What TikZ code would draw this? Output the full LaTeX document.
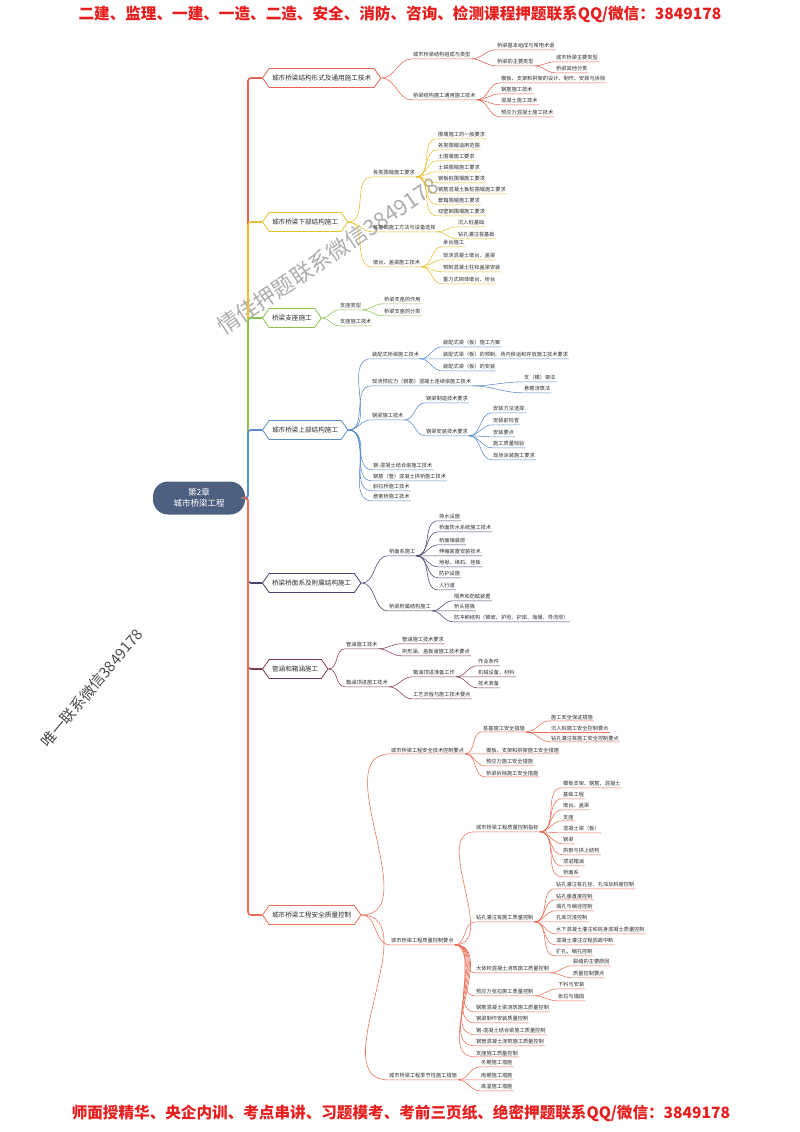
\documentclass[tikz,border=0pt]{standalone}
\usepackage{fontspec}
\setmainfont{Noto Sans CJK SC}
\usetikzlibrary{shapes.symbols}
\definecolor{cA}{RGB}{226,98,84}
\definecolor{cB}{RGB}{232,190,50}
\definecolor{cC}{RGB}{140,193,82}
\definecolor{cD}{RGB}{90,140,200}
\definecolor{cE}{RGB}{75,65,110}
\definecolor{cF}{RGB}{130,60,80}
\definecolor{cG}{RGB}{232,110,85}
\definecolor{rootc}{RGB}{78,96,130}
\definecolor{txt}{RGB}{45,45,45}
\definecolor{hdr}{RGB}{230,30,30}
\newcommand\mylf[4]{\node[leaf] (#1) at (#2,#3) {#4};}
\newcommand\mylk[3]{\draw[lnk=#1] (#2.south east) to[out=0,in=180] (#3.south west) -- (#3.south east);}
\newcommand\myhk[3]{\draw[lnk=#1] (#2.east) to[out=0,in=180] (#3.south west) -- (#3.south east);}
\begin{document}
\begin{tikzpicture}[x=1pt,y=-1pt,
  leaf/.style={font=\fontsize{5.2}{6}\selectfont, text=txt, inner xsep=1pt, inner ysep=1.2pt, anchor=west},
  hex/.style={shape=signal, signal to=east and west, signal pointer angle=110, draw=#1, line width=0.8pt, fill=white, font=\fontsize{6.6}{8}\selectfont, text=txt, inner xsep=3pt, inner ysep=0pt, minimum height=19pt, anchor=west},
  lnk/.style={draw=#1, line width=0.55pt},
  trunk/.style={draw=#1, line width=1.6pt, rounded corners=3pt}]
\fill[white] (0,0) rectangle (800,1132);
\useasboundingbox (0,0) rectangle (800,1132);

% header / footer
\node[font=\fontsize{15.6}{18}\selectfont\bfseries, text=hdr] (hd) at (400,14) {二建、监理、一建、一造、二造、安全、消防、咨询、检测课程押题联系QQ/微信：3849178};
\node[font=\fontsize{15.6}{18}\selectfont\bfseries, text=hdr] (ft) at (401,1113) {师面授精华、央企内训、考点串讲、习题模考、考前三页纸、绝密押题联系QQ/微信：3849178};

% watermarks
\node[font=\fontsize{22}{24}\selectfont, text=black!32, rotate=34] (wm1) at (328,256) {情佳押题联系微信3849178};
\node[font=\fontsize{15}{17}\selectfont, text=black!70, rotate=50] (wm2) at (92,688) {唯一联系微信3849178};

% root
\node[fill=rootc, rounded corners=15pt, minimum width=92pt, minimum height=33pt, text=white, align=center, font=\fontsize{8.5}{11}\selectfont] (root) at (199,498) {第2章\\城市桥梁工程};

% main branches
\node[hex=cA] (b1) at (262,78) {城市桥梁结构形式及通用施工技术};
\node[hex=cB] (b2) at (262,222) {城市桥梁下部结构施工};
\node[hex=cC] (b3) at (262,318) {桥梁支座施工};
\node[hex=cD] (b4) at (262,430) {城市桥梁上部结构施工};
\node[hex=cE] (b5) at (262,583) {桥梁桥面系及附属结构施工};
\node[hex=cF] (b6) at (262,669) {管涵和箱涵施工};
\node[hex=cG] (b7) at (262,915) {城市桥梁工程安全质量控制};

\draw[trunk=cA] (root.east) -- (248,498) -- (248,78) -- (b1.west);
\draw[trunk=cB] (root.east) -- (248,498) -- (248,222) -- (b2.west);
\draw[trunk=cC] (root.east) -- (248,498) -- (248,318) -- (b3.west);
\draw[trunk=cD] (root.east) -- (248,498) -- (248,430) -- (b4.west);
\draw[trunk=cE] (root.east) -- (248,498) -- (248,583) -- (b5.west);
\draw[trunk=cF] (root.east) -- (248,498) -- (248,669) -- (b6.west);
\draw[trunk=cG] (root.east) -- (248,498) -- (248,915) -- (b7.west);

% ---------- branch 1
\mylf{b1a}{412}{55}{城市桥梁结构组成与类型}
\mylf{b1a1}{496}{46}{桥梁基本组成与常用术语}
\mylf{b1a2}{496}{62}{桥梁的主要类型}
\mylf{b1a2a}{555}{58}{城市桥梁主要类型}
\mylf{b1a2b}{555}{69}{桥梁其他分类}
\mylf{b1b}{412}{96}{桥梁结构施工通用施工技术}
\mylf{b1b1}{500}{79}{模板、支架和拱架的设计、制作、安装与拆除}
\mylf{b1b2}{500}{90}{钢筋施工技术}
\mylf{b1b3}{500}{101}{混凝土施工技术}
\mylf{b1b4}{500}{113}{预应力混凝土施工技术}
\myhk{cA}{b1}{b1a}\myhk{cA}{b1}{b1b}
\mylk{cA}{b1a}{b1a1}\mylk{cA}{b1a}{b1a2}
\mylk{cA}{b1a2}{b1a2a}\mylk{cA}{b1a2}{b1a2b}
\mylk{cA}{b1b}{b1b1}\mylk{cA}{b1b}{b1b2}\mylk{cA}{b1b}{b1b3}\mylk{cA}{b1b}{b1b4}

% ---------- branch 2
\mylf{b2a}{372}{173}{各类围堰施工要求}
\mylf{b2a1}{437}{135}{围堰施工的一般要求}
\mylf{b2a2}{437}{146}{各类围堰适用范围}
\mylf{b2a3}{437}{157}{土围堰施工要求}
\mylf{b2a4}{437}{168}{土袋围堰施工要求}
\mylf{b2a5}{437}{179}{钢板桩围堰施工要求}
\mylf{b2a6}{437}{190}{钢筋混凝土板桩围堰施工要求}
\mylf{b2a7}{437}{201}{套箱围堰施工要求}
\mylf{b2a8}{437}{212}{双壁钢围堰施工要求}
\mylf{b2b}{372}{228}{桩基础施工方法与设备选择}
\mylf{b2b1}{457}{223}{沉入桩基础}
\mylf{b2b2}{457}{235}{钻孔灌注桩基础}
\mylf{b2c}{372}{263}{墩台、盖梁施工技术}
\mylf{b2c1}{442}{243}{承台施工}
\mylf{b2c2}{442}{256}{现浇混凝土墩台、盖梁}
\mylf{b2c3}{442}{268}{预制混凝土柱和盖梁安装}
\mylf{b2c4}{442}{280}{重力式砌体墩台、桥台}
\myhk{cB}{b2}{b2a}\myhk{cB}{b2}{b2b}\myhk{cB}{b2}{b2c}
\foreach \i in {1,...,8}{\mylk{cB}{b2a}{b2a\i}}
\mylk{cB}{b2b}{b2b1}\mylk{cB}{b2b}{b2b2}
\foreach \i in {1,...,4}{\mylk{cB}{b2c}{b2c\i}}

% ---------- branch 3
\mylf{b3a}{339}{306}{支座类型}
\mylf{b3a1}{383}{300}{桥梁支座的作用}
\mylf{b3a2}{383}{312}{桥梁支座的分类}
\mylf{b3b}{339}{322}{支座施工技术}
\myhk{cC}{b3}{b3a}\myhk{cC}{b3}{b3b}
\mylk{cC}{b3a}{b3a1}\mylk{cC}{b3a}{b3a2}

% ---------- branch 4
\mylf{b4a}{371}{355}{装配式桥梁施工技术}
\mylf{b4a1}{442}{343}{装配式梁（板）施工方案}
\mylf{b4a2}{442}{355}{装配式梁（板）的预制、场内移运和存放施工技术要求}
\mylf{b4a3}{442}{367}{装配式梁（板）的安装}
\mylf{b4b}{371}{382}{现浇预应力（钢筋）混凝土连续梁施工技术}
\mylf{b4b1}{523}{378}{支（模）架法}
\mylf{b4b2}{523}{389}{悬臂浇筑法}
\mylf{b4c}{371}{416}{钢梁施工技术}
\mylf{b4c1}{425}{399}{钢梁制造技术要求}
\mylf{b4c2}{425}{432}{钢梁安装技术要求}
\mylf{b4c21}{492}{409}{安装方法选择}
\mylf{b4c22}{492}{421}{安装前检查}
\mylf{b4c23}{492}{433}{安装要点}
\mylf{b4c24}{492}{444}{施工质量检验}
\mylf{b4c25}{492}{456}{现场涂装施工要求}
\mylf{b4d}{372}{466}{钢-混凝土结合梁施工技术}
\mylf{b4e}{372}{477}{钢筋（管）混凝土拱桥施工技术}
\mylf{b4f}{372}{487}{斜拉桥施工技术}
\mylf{b4g}{372}{497}{悬索桥施工技术}
\foreach \n in {b4a,b4b,b4c,b4d,b4e,b4f,b4g}{\myhk{cD}{b4}{\n}}
\foreach \i in {1,2,3}{\mylk{cD}{b4a}{b4a\i}}
\mylk{cD}{b4b}{b4b1}\mylk{cD}{b4b}{b4b2}
\mylk{cD}{b4c}{b4c1}\mylk{cD}{b4c}{b4c2}
\foreach \i in {1,...,5}{\mylk{cD}{b4c2}{b4c2\i}}

% ---------- branch 5
\mylf{b5a}{388}{552}{桥面系施工}
\mylf{b5a1}{438}{517}{排水设施}
\mylf{b5a2}{438}{528}{桥面防水系统施工技术}
\mylf{b5a3}{438}{541}{桥面铺装层}
\mylf{b5a4}{438}{552}{伸缩装置安装技术}
\mylf{b5a5}{438}{563}{地袱、缘石、挂板}
\mylf{b5a6}{438}{574}{防护设施}
\mylf{b5a7}{438}{586}{人行道}
\mylf{b5b}{388}{607}{桥梁附属结构施工}
\mylf{b5b1}{453}{597}{隔声和防眩装置}
\mylf{b5b2}{453}{607}{桥头搭板}
\mylf{b5b3}{453}{618}{防冲刷结构（锥坡、护坦、护岸、海墁、导流坝）}
\myhk{cE}{b5}{b5a}\myhk{cE}{b5}{b5b}
\foreach \i in {1,...,7}{\mylk{cE}{b5a}{b5a\i}}
\foreach \i in {1,2,3}{\mylk{cE}{b5b}{b5b\i}}

% ---------- branch 6
\mylf{b6a}{345}{645}{管涵施工技术}
\mylf{b6a1}{401}{640}{管涵施工技术要求}
\mylf{b6a2}{401}{652}{拱形涵、盖板涵施工技术要点}
\mylf{b6b}{345}{683}{箱涵顶进施工技术}
\mylf{b6b1}{412}{673}{箱涵顶进准备工作}
\mylf{b6b11}{477}{662}{作业条件}
\mylf{b6b12}{477}{673}{机械设备、材料}
\mylf{b6b13}{477}{684}{技术准备}
\mylf{b6b2}{412}{695}{工艺流程与施工技术要点}
\myhk{cF}{b6}{b6a}\myhk{cF}{b6}{b6b}
\mylk{cF}{b6a}{b6a1}\mylk{cF}{b6a}{b6a2}
\mylk{cF}{b6b}{b6b1}\mylk{cF}{b6b}{b6b2}
\foreach \i in {1,2,3}{\mylk{cF}{b6b1}{b6b1\i}}

% ---------- branch 7
\mylf{b7a}{390}{750}{城市桥梁工程安全技术控制要点}
\mylf{b7a1}{482}{728}{桩基施工安全措施}
\mylf{b7a11}{550}{717}{施工安全保证措施}
\mylf{b7a12}{550}{728}{沉入桩施工安全控制要点}
\mylf{b7a13}{550}{738}{钻孔灌注桩施工安全控制要点}
\mylf{b7a2}{485}{750}{模板、支架和拱架施工安全措施}
\mylf{b7a3}{485}{762}{预应力施工安全措施}
\mylf{b7a4}{485}{773}{桥梁拆除施工安全措施}
\mylf{b7b}{390}{941}{城市桥梁工程质量控制要点}
\mylf{b7b1}{475}{828}{城市桥梁工程质量控制指标}
\mylf{b7b11}{562}{784}{模板支架、钢筋、混凝土}
\mylf{b7b12}{562}{795}{基础工程}
\mylf{b7b13}{562}{806}{墩台、盖梁}
\mylf{b7b14}{562}{817}{支座}
\mylf{b7b15}{562}{829}{混凝土梁（板）}
\mylf{b7b16}{562}{840}{钢梁}
\mylf{b7b17}{562}{851}{拱部与拱上结构}
\mylf{b7b18}{562}{862}{顶进箱涵}
\mylf{b7b19}{562}{873}{桥面系}
\mylf{b7b2}{475}{918}{钻孔灌注桩施工质量控制}
\mylf{b7b21}{555}{885}{钻孔灌注桩孔径、孔深及斜度控制}
\mylf{b7b22}{555}{896}{钻孔垂直度控制}
\mylf{b7b23}{555}{907}{塌孔与缩径控制}
\mylf{b7b24}{555}{918}{孔底沉渣控制}
\mylf{b7b25}{555}{930}{水下混凝土灌注和桩身混凝土质量控制}
\mylf{b7b26}{555}{941}{混凝土灌注过程因故中断}
\mylf{b7b27}{555}{952}{扩孔、缩孔控制}
\mylf{b7b3}{475}{969}{大体积混凝土浇筑施工质量控制}
\mylf{b7b31}{572}{962}{裂缝的主要原因}
\mylf{b7b32}{572}{974}{质量控制要点}
\mylf{b7b4}{475}{992}{预应力张拉施工质量控制}
\mylf{b7b41}{557}{985}{下料与安装}
\mylf{b7b42}{557}{997}{张拉与锚固}
\mylf{b7b5}{475}{1008}{钢筋混凝土梁浇筑施工质量控制}
\mylf{b7b6}{475}{1019}{钢梁制作安装质量控制}
\mylf{b7b7}{475}{1031}{钢-混凝土结合梁施工质量控制}
\mylf{b7b8}{475}{1042}{钢管混凝土浇筑施工质量控制}
\mylf{b7b9}{475}{1053}{支座施工质量控制}
\mylf{b7c}{388}{1076}{城市桥梁工程季节性施工措施}
\mylf{b7c1}{480}{1063}{冬期施工措施}
\mylf{b7c2}{480}{1076}{雨期施工措施}
\mylf{b7c3}{480}{1087}{高温施工措施}
\myhk{cG}{b7}{b7a}\myhk{cG}{b7}{b7b}\myhk{cG}{b7}{b7c}
\foreach \i in {1,...,4}{\mylk{cG}{b7a}{b7a\i}}
\foreach \i in {1,2,3}{\mylk{cG}{b7a1}{b7a1\i}}
\foreach \i in {1,...,9}{\mylk{cG}{b7b}{b7b\i}}
\foreach \i in {1,...,9}{\mylk{cG}{b7b1}{b7b1\i}}
\foreach \i in {1,...,7}{\mylk{cG}{b7b2}{b7b2\i}}
\mylk{cG}{b7b3}{b7b31}\mylk{cG}{b7b3}{b7b32}
\mylk{cG}{b7b4}{b7b41}\mylk{cG}{b7b4}{b7b42}
\foreach \i in {1,2,3}{\mylk{cG}{b7c}{b7c\i}}
\end{tikzpicture}
\end{document}
